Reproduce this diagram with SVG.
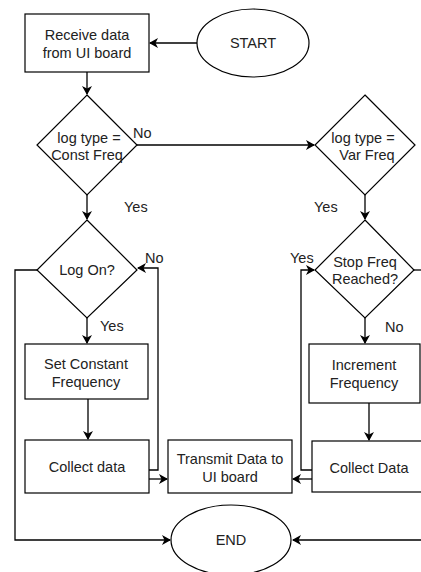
<svg xmlns="http://www.w3.org/2000/svg" width="421" height="572" viewBox="0 0 421 572">
<defs>
<marker id="arr" markerWidth="10" markerHeight="10" refX="8" refY="5" orient="auto" markerUnits="userSpaceOnUse">
<path d="M0,0 L9,5 L0,10 L2.5,5 Z" fill="#000"/>
</marker>
<style>
.s{fill:#fff;stroke:#000;stroke-width:1.2}
.t{font-family:"Liberation Sans",Arial,sans-serif;font-size:14.5px;fill:#222;text-anchor:middle}
.l{font-family:"Liberation Sans",Arial,sans-serif;font-size:14.5px;fill:#222}
.c{fill:none;stroke:#000;stroke-width:1.3}
.a{marker-end:url(#arr)}
</style>
</defs>
<rect width="421" height="572" fill="#fff"/>
<g id="connectors">
<path class="c a" d="M197,43 H150"/>
<path class="c a" d="M87,72 V94"/>
<path class="c a" d="M137,145 H314"/>
<path class="c a" d="M87,195 V219"/>
<path class="c a" d="M365,195 V219"/>
<path class="c a" d="M87,318 V343"/>
<path class="c a" d="M88,399 V439"/>
<path class="c a" d="M149,470 H158 V268 H138"/>
<path class="c a" d="M149,479 H167"/>
<path class="c a" d="M37,270 H15 V540 H170"/>
<path class="c a" d="M365,318 V343"/>
<path class="c a" d="M369,403 V440"/>
<path class="c a" d="M312,470 H301 V270 H314"/>
<path class="c a" d="M312,479 H293"/>
<path class="c a" d="M421,540 H293"/>
<path class="c" d="M414,270 H421"/>
<text class="l" x="133" y="138">No</text>
<text class="l" x="124" y="212">Yes</text>
<text class="l" x="314" y="212">Yes</text>
<text class="l" x="145" y="263">No</text>
<text class="l" x="100" y="331">Yes</text>
<text class="l" x="290" y="263">Yes</text>
<text class="l" x="385" y="332">No</text>
</g>
<g id="start">
<ellipse class="s" cx="253" cy="43" rx="56" ry="34"/>
<text class="t" x="253" y="48">START</text>
</g>
<g id="receive">
<rect class="s" x="25" y="14" width="124" height="58"/>
<text class="t" x="87" y="40">Receive data</text>
<text class="t" x="87" y="58">from UI board</text>
</g>
<g id="constFreq">
<path class="s" d="M87,95 L137,145 L87,195 L37,145 Z"/>
<text class="t" x="89" y="143">log type =</text>
<text class="t" x="87" y="160">Const Freq</text>
</g>
<g id="varFreq">
<path class="s" d="M365,95 L415,145 L365,195 L315,145 Z"/>
<text class="t" x="363" y="143">log type =</text>
<text class="t" x="367" y="160">Var Freq</text>
</g>
<g id="logOn">
<path class="s" d="M87,220 L137,270 L87,318 L37,270 Z"/>
<text class="t" x="87" y="275">Log On?</text>
</g>
<g id="stopFreq">
<path class="s" d="M365,220 L414,270 L365,318 L315,270 Z"/>
<text class="t" x="365" y="267">Stop Freq</text>
<text class="t" x="365" y="284">Reached?</text>
</g>
<g id="setConst">
<rect class="s" x="25" y="344" width="123" height="55"/>
<text class="t" x="86" y="369">Set Constant</text>
<text class="t" x="86" y="387">Frequency</text>
</g>
<g id="increment">
<rect class="s" x="309" y="344" width="111" height="59"/>
<text class="t" x="364" y="370">Increment</text>
<text class="t" x="364" y="388">Frequency</text>
</g>
<g id="collectLeft">
<rect class="s" x="25" y="440" width="124" height="53"/>
<text class="t" x="87" y="472">Collect data</text>
</g>
<g id="transmit">
<rect class="s" x="168" y="440" width="124" height="53"/>
<text class="t" x="230" y="464">Transmit Data to</text>
<text class="t" x="230" y="482">UI board</text>
</g>
<g id="collectRight">
<rect class="s" x="312" y="441" width="115" height="51"/>
<text class="t" x="369" y="473">Collect Data</text>
</g>
<g id="end">
<ellipse class="s" cx="231" cy="540" rx="60" ry="35"/>
<text class="t" x="231" y="545">END</text>
</g>
</svg>
